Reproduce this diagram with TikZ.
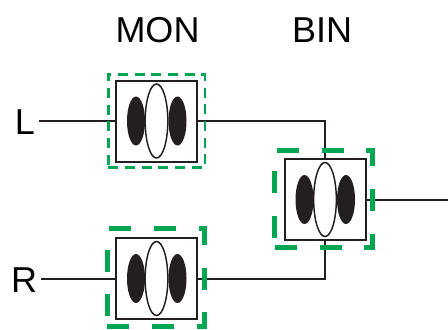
\documentclass[tikz,border=0pt]{standalone}
\usepackage{fontspec}
\setmainfont{Liberation Sans}
\usetikzlibrary{shapes.geometric}
\definecolor{dgreen}{RGB}{0,166,81}
\definecolor{ink}{RGB}{35,31,32}
\tikzset{every picture/.style={line width=1.5pt}}
\tikzset{
  unitbox/.style={draw=ink, fill=white, minimum size=60.75pt, inner sep=0pt, outer sep=0pt},
  lobe/.style={ellipse, fill=ink, minimum width=13.5pt, minimum height=36.75pt, inner sep=0pt},
  core/.style={ellipse, draw=ink, fill=white, line width=1.1pt, minimum width=17pt, minimum height=55.5pt, inner sep=0pt},
  thinframe/.style={draw=dgreen, line width=1.9pt, dash pattern=on 7.5pt off 5pt, minimum width=72.4pt, minimum height=70pt, inner sep=0pt},
  thickframe/.style={draw=dgreen, line width=3.75pt, dash pattern=on 16.5pt off 17pt, minimum width=73pt, minimum height=73pt, inner sep=0pt},
  tag/.style={font=\fontsize{27}{30}\selectfont, inner sep=0pt, outer sep=3pt, anchor=base}
}

\begin{document}
\begin{tikzpicture}[x=0.75pt,y=0.75pt,yscale=-1,xscale=1]
\useasboundingbox (0,0) rectangle (448,329);

% Units: box, two dark lobes, open core
\foreach \n/\x/\y in {mon/156.5/121, bin/325/199.5, rin/156.5/278.5}{
  \node [unitbox] (\n) at (\x,\y) {};
  \node [lobe] (\n-l) at (\x-20.5,\y) {};
  \node [lobe] (\n-r) at (\x+21,\y) {};
  \node [core] (\n-c) at (\x,\y) {};
}

% Text Nodes
\node [tag] (monlbl) at (157.5,42) {MON};
\node [tag] (binlbl) at (322,42) {BIN};
\node [tag] (llbl) at (25,134) {L};
\node [tag] (rlbl) at (24,292) {R};
\coordinate (out) at (448,199.5);

% Connections
\draw [ink] (llbl.east |- mon.west) -- (mon.west);
\draw [ink] (rlbl.east |- rin.west) -- (rin.west);
\draw [ink] (mon.east) -| (bin.north);
\draw [ink] (bin.south) |- (rin.east);
\draw [ink] (bin.east) -- (out);

% Dashed frames
\node [thinframe] (mon-frame) at (156.5,121) {};
\node [thickframe] (bin-frame) at (323.5,199) {};
\node [thickframe] (rin-frame) at (156,277.5) {};

\end{tikzpicture}
\end{document}
